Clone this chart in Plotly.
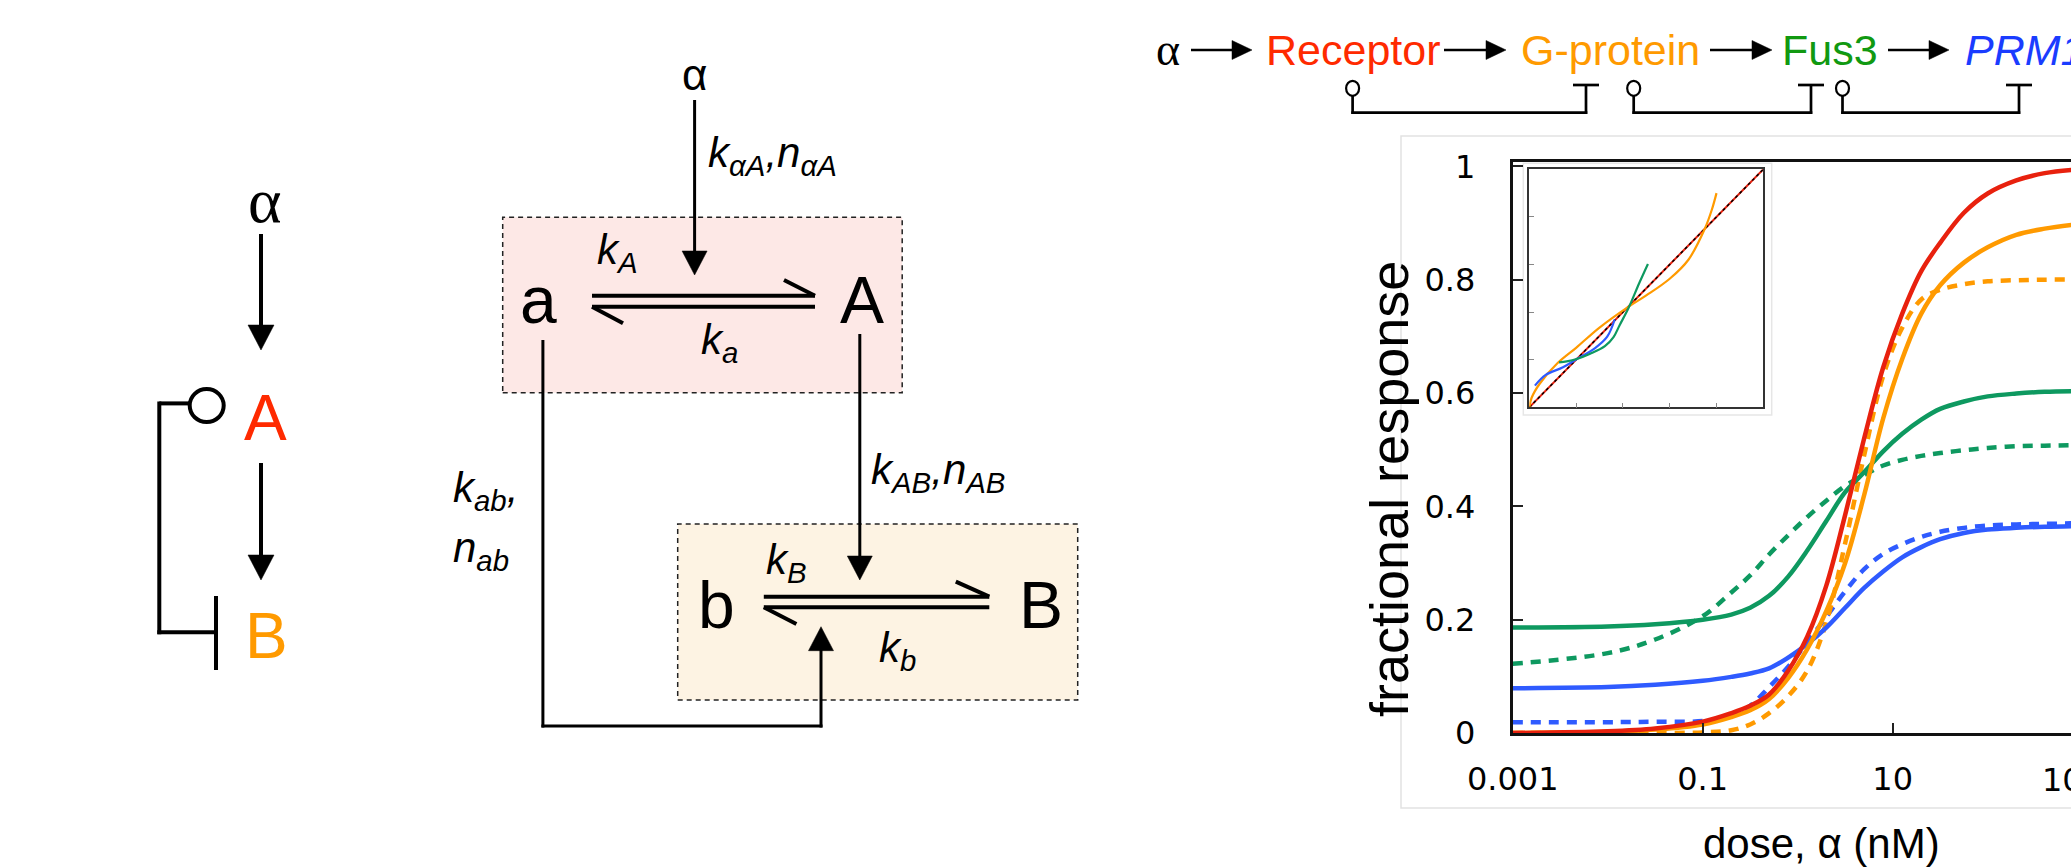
import plotly.graph_objects as go

W, H = 2071, 867

# ---------------- data ----------------
dose_nM = [0.001, 0.01, 0.0316, 0.1, 0.2, 0.316, 0.5, 0.794, 1.26, 2.0, 3.16,
           5.01, 7.94, 12.6, 20.0, 31.6, 56.2, 100, 200, 398, 794]
receptor = [0.0, 0.003, 0.008, 0.02, 0.035, 0.048, 0.068, 0.11, 0.17, 0.26, 0.385,
            0.52, 0.645, 0.74, 0.815, 0.865, 0.918, 0.952, 0.975, 0.988, 0.994]
gprotein = [0.0, 0.002, 0.006, 0.015, 0.028, 0.04, 0.06, 0.097, 0.148, 0.215, 0.30,
            0.42, 0.555, 0.66, 0.74, 0.79, 0.83, 0.857, 0.879, 0.89, 0.897]
gprotein_dashed = [0.0, 0.0, 0.0, 0.001, 0.005, 0.015, 0.035, 0.065, 0.11, 0.195, 0.335,
                   0.49, 0.63, 0.715, 0.765, 0.782, 0.792, 0.797, 0.799, 0.8, 0.8]
fus3 = [0.186, 0.188, 0.192, 0.2, 0.209, 0.221, 0.242, 0.276, 0.322, 0.374, 0.425,
        0.46, 0.497, 0.528, 0.553, 0.572, 0.585, 0.594, 0.599, 0.602, 0.603]
fus3_dashed = [0.122, 0.141, 0.165, 0.206, 0.248, 0.278, 0.315, 0.349, 0.381, 0.41, 0.436,
               0.455, 0.472, 0.482, 0.489, 0.494, 0.499, 0.503, 0.506, 0.507, 0.508]
prm1 = [0.079, 0.081, 0.085, 0.092, 0.099, 0.105, 0.114, 0.133, 0.157, 0.186, 0.221,
        0.256, 0.285, 0.31, 0.328, 0.342, 0.353, 0.359, 0.362, 0.364, 0.365]
prm1_dashed = [0.019, 0.019, 0.02, 0.021, 0.03, 0.048, 0.081, 0.117, 0.16, 0.205, 0.25,
               0.289, 0.316, 0.333, 0.346, 0.355, 0.362, 0.366, 0.368, 0.369, 0.37]

x_tickvals = [0.001, 0.1, 10, 1000]
x_ticktext = ["0.001", "0.1", "10", "1000"]
y_tickvals = [0, 0.2, 0.4, 0.6, 0.8, 1.0]
y_ticktext = ["0", "0.2", "0.4", "0.6", "0.8", "1"]

# inset curves
inset_diag = [0.0, 1.0]
inset_orange_u = [0.0, 0.01, 0.045, 0.12, 0.2, 0.3, 0.42, 0.5, 0.6, 0.68, 0.75, 0.78, 0.80]
inset_orange_w = [0.0, 0.04, 0.10, 0.185, 0.25, 0.335, 0.42, 0.47, 0.54, 0.62, 0.75, 0.83, 0.90]
inset_green_u = [0.127, 0.16, 0.203, 0.26, 0.323, 0.36, 0.386, 0.424, 0.47, 0.507]
inset_green_w = [0.189, 0.193, 0.203, 0.225, 0.257, 0.295, 0.345, 0.417, 0.522, 0.602]
inset_blue_u = [0.024, 0.07, 0.144, 0.203, 0.281, 0.333, 0.365]
inset_blue_w = [0.091, 0.136, 0.168, 0.203, 0.249, 0.297, 0.369]

RED = "#e8210e"
ORANGE = "#ff9a00"
GREEN = "#0e9960"
BLUE = "#2f5bff"

# ---------------- helpers (pixel -> paper) ----------------
def X(x):
    return x / W

def Y(y):
    return 1 - y / H

shapes = []
annotations = []

def seg(x0, y0, x1, y1, w=3.0, color="black", layer="above"):
    shapes.append(dict(type="line", xref="paper", yref="paper",
                       x0=X(x0), y0=Y(y0), x1=X(x1), y1=Y(y1),
                       line=dict(color=color, width=w), layer=layer))

def poly(points, color="black"):
    p = "M " + " L ".join(f"{X(a):.6f},{Y(b):.6f}" for a, b in points) + " Z"
    shapes.append(dict(type="path", xref="paper", yref="paper", path=p,
                       fillcolor=color, line=dict(color=color, width=0.5)))

def arrow(x0, y0, x1, y1, hl=22, hw=24, w=3.0):
    if x0 == x1:
        s = 1 if y1 > y0 else -1
        seg(x0, y0, x1, y1 - s * hl * 0.8, w)
        poly([(x1, y1), (x1 - hw / 2, y1 - s * hl), (x1 + hw / 2, y1 - s * hl)])
    else:
        s = 1 if x1 > x0 else -1
        seg(x0, y0, x1 - s * hl * 0.8, y1, w)
        poly([(x1, y1), (x1 - s * hl, y1 - hw / 2), (x1 - s * hl, y1 + hw / 2)])

def circle(cx, cy, rx, ry, w=3.0):
    shapes.append(dict(type="circle", xref="paper", yref="paper",
                       x0=X(cx - rx), x1=X(cx + rx), y0=Y(cy + ry), y1=Y(cy - ry),
                       line=dict(color="black", width=w), fillcolor="white"))

def rect(x0, y0, x1, y1, fill, line_color="#222", w=1.5, dash="5px,4px", layer="below"):
    shapes.append(dict(type="rect", xref="paper", yref="paper",
                       x0=X(x0), x1=X(x1), y0=Y(y1), y1=Y(y0),
                       fillcolor=fill, line=dict(color=line_color, width=w, dash=dash),
                       layer=layer))

def text(x, y, s, size, color="black", family="Liberation Sans", xanchor="center",
         angle=0):
    annotations.append(dict(xref="paper", yref="paper", x=X(x), y=Y(y), text=s,
                            showarrow=False, xanchor=xanchor, yanchor="middle",
                            textangle=angle,
                            font=dict(size=size, color=color, family=family)))

# ---------------- left diagram ----------------
text(265, 200, "α", 64, family="Liberation Serif")
arrow(261, 234, 261, 350, hl=25, hw=26, w=4)
text(265, 418, "A", 64, color="#ff2a00")
arrow(261, 463, 261, 580, hl=25, hw=26, w=4)
text(266, 636, "B", 64, color=ORANGE)
seg(190, 403.4, 159.3, 403.4, w=4)
seg(159.3, 401.4, 159.3, 634.3, w=4)
seg(157.3, 632.3, 216, 632.3, w=4)
seg(216, 596, 216, 670, w=4)
circle(206.7, 405.6, 17, 16.5, w=4)

# ---------------- middle diagram ----------------
rect(502.7, 217.3, 902.2, 392.7, "#fde8e6")
rect(677.7, 524, 1077.7, 700, "#fdf3e3")
text(694.6, 74, "α", 44)
arrow(694.6, 100, 694.6, 275, hl=24, hw=25, w=3)
text(705.8, 155, "<i>k</i><sub><i>αA</i></sub><i>,n</i><sub><i>αA</i></sub>", 42,
     xanchor="left")
text(538.4, 300, "a", 66)
text(862, 300, "A", 66)
seg(592, 295.7, 815, 295.7, w=4)
seg(784, 280, 815, 295.7, w=4)
seg(592, 306.7, 815, 306.7, w=4)
seg(592, 306.7, 623, 323.3, w=4)
text(617, 252, "<i>k</i><sub><i>A</i></sub>", 42)
text(719, 342, "<i>k</i><sub><i>a</i></sub>", 42)
seg(542.9, 340, 542.9, 727.5, w=3)
seg(541.4, 726, 822.5, 726, w=3)
arrow(821, 727.5, 821, 626.7, hl=24, hw=25, w=3)
arrow(859.8, 334, 859.8, 580, hl=24, hw=25, w=3)
text(868.8, 472, "<i>k</i><sub><i>AB</i></sub><i>,n</i><sub><i>AB</i></sub>", 42,
     xanchor="left")
text(451, 490, "<i>k</i><sub><i>ab</i></sub><i>,</i>", 42, xanchor="left")
text(451, 550, "<i>n</i><sub><i>ab</i></sub>", 42, xanchor="left")
text(716.8, 605, "b", 66)
text(1040.6, 605, "B", 66)
seg(763.8, 596.7, 989.3, 596.7, w=4)
seg(955.8, 581.7, 989.3, 596.7, w=4)
seg(763.8, 607.3, 989.3, 607.3, w=4)
seg(763.8, 607.3, 796.4, 624, w=4)
text(786, 562, "<i>k</i><sub><i>B</i></sub>", 42)
text(897, 650, "<i>k</i><sub><i>b</i></sub>", 42)

# ---------------- pathway on top ----------------
text(1168, 50, "α", 46, family="Liberation Serif")
arrow(1191, 50, 1252, 50, hl=20, hw=19, w=2.7)
text(1352.7, 50, "Receptor", 43, color="#ff2a00")
arrow(1444, 50, 1506, 50, hl=20, hw=19, w=2.7)
text(1610, 50, "G-protein", 43, color=ORANGE)
arrow(1710, 50, 1772, 50, hl=20, hw=19, w=2.7)
text(1830, 50, "Fus3", 43, color="#119911")
arrow(1888, 50, 1949, 50, hl=20, hw=19, w=2.7)
text(1963, 50, "<i>PRM1</i>", 43, color="#1a3cff", xanchor="left")
for cx, tx in [(1352.6, 1586), (1633.7, 1811), (1842.5, 2019)]:
    seg(cx, 95, cx, 113.9, w=2.7)
    seg(cx - 1.3, 112.7, tx + 1.3, 112.7, w=2.7)
    seg(tx, 113.9, tx, 85, w=2.7)
    seg(tx - 13, 85, tx + 13, 85, w=2.7)
    circle(cx, 88.3, 6.5, 7.5, w=2.2)

# ---------------- chart frame decorations ----------------
rect(1401, 136, 2100, 808, "rgba(0,0,0,0)", line_color="#e2e2e2", w=1.5, dash="solid")
rect(1523.3, 163.3, 1771.7, 415, "white", line_color="#e6e6e6", w=1.5, dash="solid")

text(1389, 489, "fractional response", 54, angle=-90)
text(1821, 843, "dose, α (nM)", 42)
text(2082.7, 780, "1000", 32, family="DejaVu Sans")

# ---------------- traces ----------------
fig = go.Figure()
dash = "10px,8px"
for ys, col in [(prm1_dashed, BLUE), (fus3_dashed, GREEN), (gprotein_dashed, ORANGE)]:
    fig.add_trace(go.Scatter(x=dose_nM, y=ys, mode="lines",
                             line=dict(color=col, width=4.5, dash=dash, shape="spline"),
                             showlegend=False, hoverinfo="skip"))
for ys, col in [(prm1, BLUE), (fus3, GREEN), (gprotein, ORANGE), (receptor, RED)]:
    fig.add_trace(go.Scatter(x=dose_nM, y=ys, mode="lines",
                             line=dict(color=col, width=4.5, shape="spline"),
                             showlegend=False, hoverinfo="skip"))

fig.add_trace(go.Scatter(x=inset_diag, y=inset_diag, mode="lines", xaxis="x2", yaxis="y2",
                         line=dict(color=RED, width=2), showlegend=False, hoverinfo="skip"))
fig.add_trace(go.Scatter(x=inset_diag, y=inset_diag, mode="lines", xaxis="x2", yaxis="y2",
                         line=dict(color="black", width=1.5, dash="3px,3px"),
                         showlegend=False, hoverinfo="skip"))
for u, w_, col in [(inset_orange_u, inset_orange_w, ORANGE),
                   (inset_blue_u, inset_blue_w, BLUE),
                   (inset_green_u, inset_green_w, GREEN)]:
    fig.add_trace(go.Scatter(x=u, y=w_, mode="lines", xaxis="x2", yaxis="y2",
                             line=dict(color=col, width=2.2, shape="spline"),
                             showlegend=False, hoverinfo="skip"))

tickfont = dict(family="DejaVu Sans", size=32, color="black")
fig.update_layout(
    width=W, height=H,
    margin=dict(l=0, r=0, t=0, b=0, pad=0, autoexpand=False),
    paper_bgcolor="white", plot_bgcolor="rgba(0,0,0,0)",
    xaxis=dict(domain=[1512.7 / W, 1.0], type="log", range=[-3, 2.877],
               showline=True, linecolor="#111", linewidth=2.5, mirror=True,
               ticks="inside", ticklen=10, tickwidth=2, tickcolor="#222",
               tickvals=x_tickvals, ticktext=x_ticktext, tickfont=tickfont,
               ticklabelstandoff=16, showgrid=False, zeroline=False,
               anchor="y", automargin=False),
    yaxis=dict(domain=[1 - 733 / H, 1 - 162 / H], range=[0, 1.0076],
               showline=True, linecolor="#111", linewidth=3,
               ticks="inside", ticklen=10, tickwidth=2, tickcolor="#222",
               tickvals=y_tickvals, ticktext=y_ticktext, tickfont=tickfont,
               ticklabelstandoff=28, showgrid=False, zeroline=False,
               anchor="x", automargin=False),
    xaxis2=dict(domain=[1529.3 / W, 1763.3 / W], range=[0, 1], anchor="y2",
                showline=True, mirror=True, linecolor="#333", linewidth=1.5,
                ticks="inside", ticklen=5, tickcolor="#888", tickwidth=1,
                tickvals=[0.2, 0.4, 0.6, 0.8], showticklabels=False,
                showgrid=False, zeroline=False, automargin=False),
    yaxis2=dict(domain=[1 - 407.3 / H, 1 - 169.3 / H], range=[0, 1], anchor="x2",
                showline=True, mirror=True, linecolor="#333", linewidth=1.5,
                ticks="inside", ticklen=5, tickcolor="#888", tickwidth=1,
                tickvals=[0.2, 0.4, 0.6, 0.8], showticklabels=False,
                showgrid=False, zeroline=False, automargin=False),
    shapes=shapes, annotations=annotations,
)

fig.write_html("out.html")
